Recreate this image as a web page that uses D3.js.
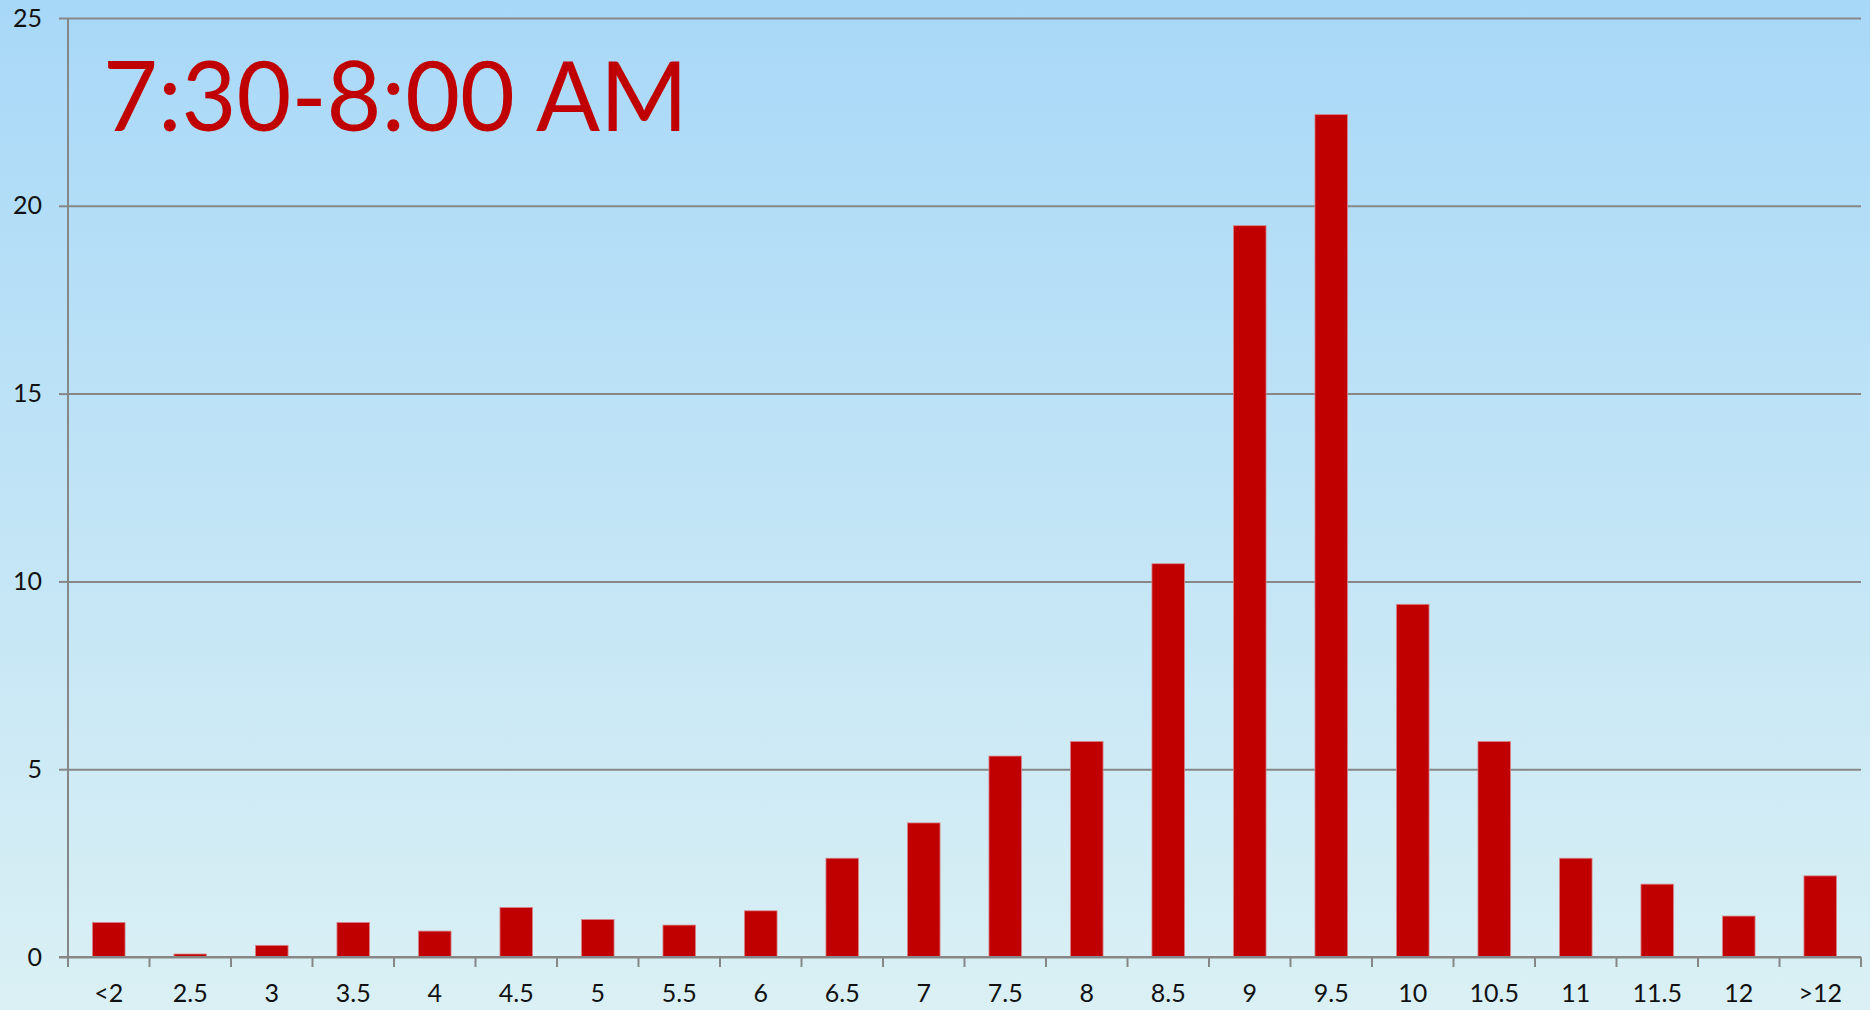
<!DOCTYPE html>
<html>
<head>
<meta charset="utf-8">
<script src="https://cdn.jsdelivr.net/npm/d3@7"></script>
<style>
  html, body { margin: 0; padding: 0; background: #d9eff5; }
  svg { display: block; }
</style>
</head>
<body>
<svg id="chart" width="1870" height="1010"></svg>
<script>
// Arrival-time histogram, 7:30-8:00 AM window (percent per half-hour bin)
const categories = ["<2", "2.5", "3", "3.5", "4", "4.5", "5", "5.5", "6", "6.5", "7",
                    "7.5", "8", "8.5", "9", "9.5", "10", "10.5", "11", "11.5", "12", ">12"];
const values = [0.92, 0.08, 0.31, 0.92, 0.69, 1.32, 1.00, 0.85, 1.23, 2.63, 3.57,
                5.35, 5.74, 10.47, 19.47, 22.43, 9.39, 5.74, 2.63, 1.94, 1.09, 2.16];
const yTicks = [0, 5, 10, 15, 20, 25];
const title = "7:30-8:00 AM";

const W = 1870, H = 1010;
const margin = { left: 68, right: 9, top: 18, bottom: 53 };
const plotW = W - margin.left - margin.right;
const plotH = H - margin.top - margin.bottom;

const svg = d3.select("#chart");

// background gradient
const defs = svg.append("defs");
const grad = defs.append("linearGradient")
  .attr("id", "bg").attr("x1", 0).attr("y1", 0).attr("x2", 0).attr("y2", 1);
grad.append("stop").attr("offset", "0%").attr("stop-color", "#a8d8f8");
grad.append("stop").attr("offset", "100%").attr("stop-color", "#daf0f4");
svg.append("rect").attr("width", W).attr("height", H).attr("fill", "url(#bg)");

const g = svg.append("g").attr("transform", `translate(${margin.left},${margin.top})`);

const x = d3.scaleBand().domain(categories).range([0, plotW])
  .paddingInner(0.6).paddingOuter(0.3);
const y = d3.scaleLinear().domain([0, 25]).range([plotH, 0]);

const gridColor = "#878787";
const fontFam = "Lato, 'Open Sans', sans-serif";
const labelSize = 25;

// horizontal gridlines with left ticks and labels
const yAxis = g.append("g")
  .call(d3.axisLeft(y).tickValues(yTicks).tickSize(9).tickPadding(17).tickFormat(d3.format("d")));
yAxis.select(".domain").remove();
yAxis.selectAll(".tick line").attr("stroke", gridColor).attr("stroke-width", 2);
yAxis.selectAll(".tick text").attr("font-family", fontFam).attr("font-size", labelSize).attr("fill", "#111");

const grid = g.append("g")
  .call(d3.axisLeft(y).tickValues(yTicks).tickSize(-plotW).tickFormat(""));
grid.select(".domain").remove();
grid.selectAll(".tick line").attr("stroke", gridColor).attr("stroke-width", 2);

// vertical axis line
g.append("line").attr("x1", 0).attr("x2", 0).attr("y1", y(25)).attr("y2", y(0) + 10)
  .attr("stroke", gridColor).attr("stroke-width", 2);

// bars
g.selectAll("rect.bar").data(values).join("rect")
  .attr("class", "bar")
  .attr("x", (d, i) => x(categories[i]))
  .attr("width", x.bandwidth())
  .attr("y", d => y(d))
  .attr("height", d => y(0) - y(d))
  .attr("fill", "#c00000")
  .attr("stroke", "#d9868a")
  .attr("stroke-width", 0.8);

// bottom axis: labels centred on bars, ticks on bin boundaries
const xAxis = g.append("g").attr("transform", `translate(0,${plotH})`)
  .call(d3.axisBottom(x).tickSize(0).tickPadding(27));
xAxis.select(".domain").remove();
xAxis.selectAll(".tick text").attr("font-family", fontFam).attr("font-size", labelSize).attr("fill", "#111");

const step = x.step();
const x0 = x(categories[0]) - step * x.paddingOuter();
g.append("g").selectAll("line").data(d3.range(categories.length + 1)).join("line")
  .attr("x1", i => x0 + i * step).attr("x2", i => x0 + i * step)
  .attr("y1", plotH).attr("y2", plotH + 10)
  .attr("stroke", gridColor).attr("stroke-width", 2);

g.append("line").attr("x1", -9).attr("x2", plotW).attr("y1", plotH).attr("y2", plotH)
  .attr("stroke", gridColor).attr("stroke-width", 2);

// title inside plot
const t = svg.append("text")
  .attr("x", 103).attr("y", 131)
  .attr("font-family", fontFam).attr("font-size", 96)
  .attr("fill", "#c00000")
  .text(title);
t.attr("textLength", 585).attr("lengthAdjust", "spacingAndGlyphs");
</script>
</body>
</html>
